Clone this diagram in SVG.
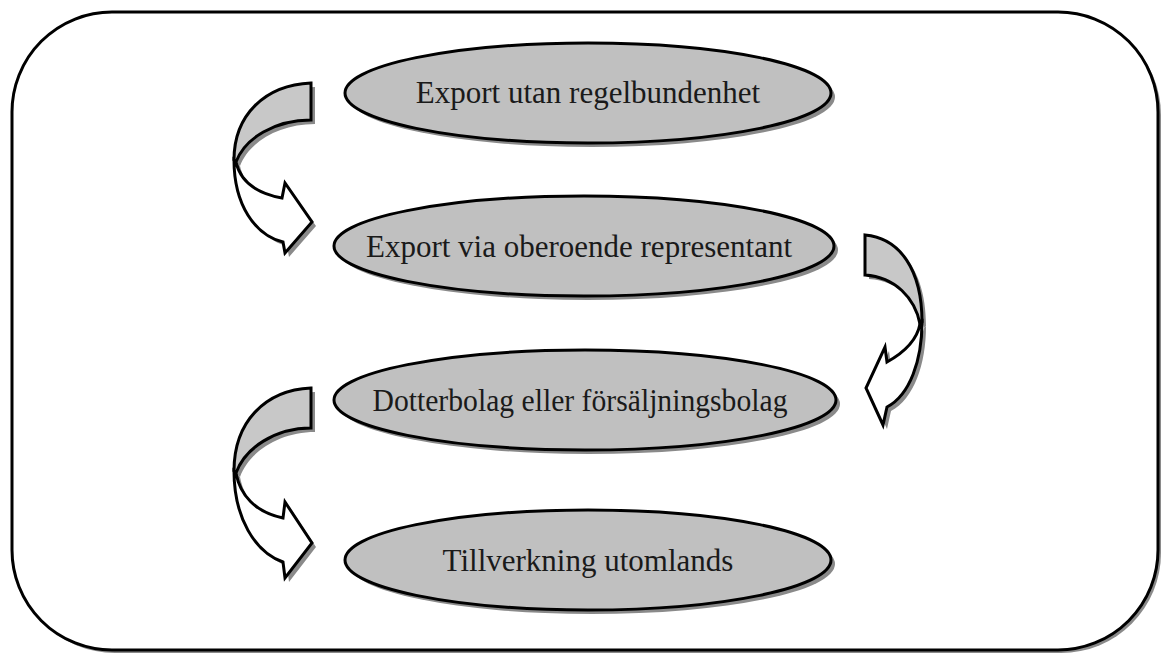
<svg xmlns="http://www.w3.org/2000/svg" width="1166" height="657" viewBox="0 0 1166 657">
<style>
.sh{fill:#8a8a8a;stroke:none}
.el{fill:#c0c0c0;stroke:#000;stroke-width:3}
.tx{font-family:"Liberation Serif","Times New Roman",serif;font-size:31px;fill:#1a1a1a;text-anchor:middle}
.band{fill:#c8c8c8;stroke:#000;stroke-width:3;stroke-linejoin:miter}
.front{fill:#fff;stroke:#000;stroke-width:3;stroke-linejoin:miter}
</style>
<rect width="1166" height="657" fill="#fff"/>
<g id="frame">
<rect x="15" y="15" width="1146" height="638" rx="100" ry="100" fill="#8a8a8a"/>
<rect x="12" y="12" width="1146" height="638" rx="100" ry="100" fill="#fff" stroke="#000" stroke-width="3"/>
</g>
<g id="node1">
<ellipse class="sh" cx="592" cy="97" rx="243" ry="50"/>
<ellipse class="el" cx="588" cy="93" rx="243" ry="50"/>
<text class="tx" x="588" y="103">Export utan regelbundenhet</text>
</g>
<g id="node2">
<ellipse class="sh" cx="588" cy="250" rx="250" ry="50"/>
<ellipse class="el" cx="584" cy="246" rx="250" ry="50"/>
<text class="tx" x="579" y="257">Export via oberoende representant</text>
</g>
<g id="node3">
<ellipse class="sh" cx="589" cy="404" rx="251" ry="50"/>
<ellipse class="el" cx="585" cy="400" rx="251" ry="50"/>
<text class="tx" x="580" y="411" textLength="415" lengthAdjust="spacingAndGlyphs">Dotterbolag eller försäljningsbolag</text>
</g>
<g id="node4">
<ellipse class="sh" cx="592" cy="564" rx="243" ry="50"/>
<ellipse class="el" cx="588" cy="560" rx="243" ry="50"/>
<text class="tx" x="588" y="571">Tillverkning utomlands</text>
</g>
<g id="connectors">
<g id="arrow1">
<g transform="translate(4,4)">
<path class="sh" d="M311,83 C265,85 234,115 234,160 L236,162 C245,138 275,120 311,120 Z"/>
<path class="sh" d="M234,160 C234,205 255,235 283,242 L285,253 L312,222 L285,183 L282,198 C255,193 240,180 236,162 Z"/>
</g>
<path class="band" d="M311,83 C265,85 234,115 234,160 L236,162 C245,138 275,120 311,120 Z"/>
<path class="front" d="M234,160 C234,205 255,235 283,242 L285,253 L312,222 L285,183 L282,198 C255,193 240,180 236,162 Z"/>
</g>
<g id="arrow2">
<g transform="translate(4,4)">
<path class="sh" d="M865,235 C900,238 922,270 922,322 L920,324 C915,298 895,277 865,275 Z"/>
<path class="sh" d="M922,322 C922,360 910,395 887,407 L883,425 L866,388 L885,347 L887,362 C905,352 917,340 920,324 Z"/>
</g>
<path class="band" d="M865,235 C900,238 922,270 922,322 L920,324 C915,298 895,277 865,275 Z"/>
<path class="front" d="M922,322 C922,360 910,395 887,407 L883,425 L866,388 L885,347 L887,362 C905,352 917,340 920,324 Z"/>
</g>
<g id="arrow3">
<g transform="translate(4,4)">
<path class="sh" d="M311,388 C265,390 234,422 234,471 L236,473 C245,448 275,428 311,428 Z"/>
<path class="sh" d="M234,471 C234,518 255,552 283,562 L285,578 L312,543 L285,502 L283,518 C255,512 240,495 236,473 Z"/>
</g>
<path class="band" d="M311,388 C265,390 234,422 234,471 L236,473 C245,448 275,428 311,428 Z"/>
<path class="front" d="M234,471 C234,518 255,552 283,562 L285,578 L312,543 L285,502 L283,518 C255,512 240,495 236,473 Z"/>
</g>
</g>
</svg>
